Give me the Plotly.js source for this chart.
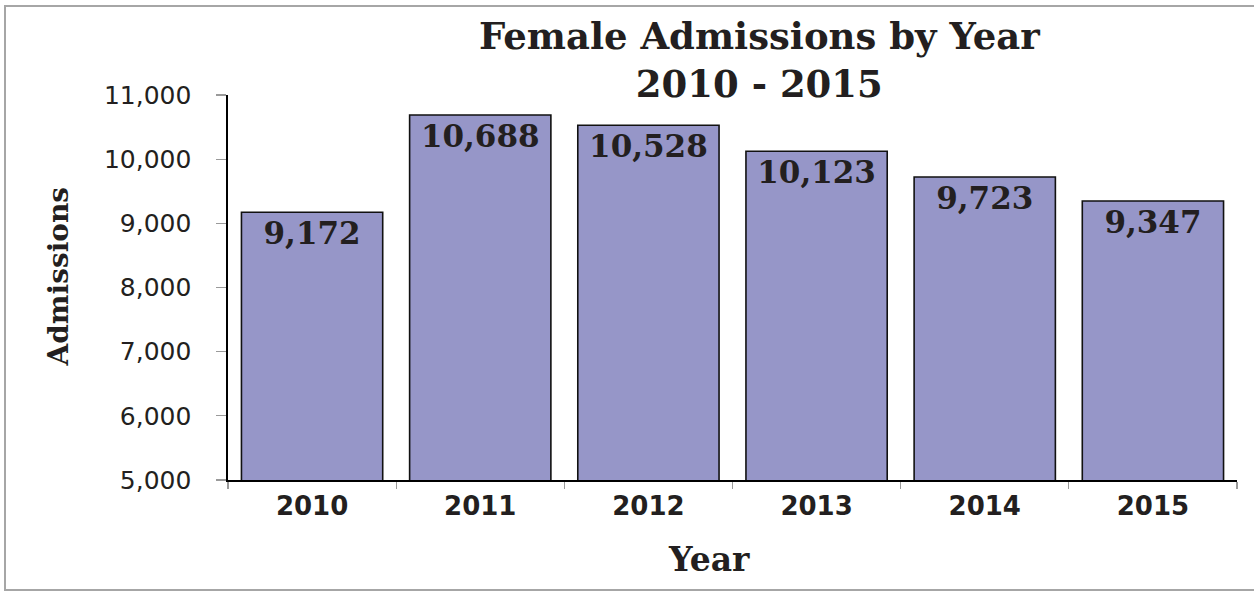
<!DOCTYPE html>
<html>
<head>
<meta charset="utf-8">
<script src="https://cdn.plot.ly/plotly-3.0.1.min.js"></script>
<style>
  html, body { margin: 0; padding: 0; background: #ffffff; }
  #frame {
    position: absolute; left: 4px; top: 5px;
    width: 1248px; height: 582px;
    border: 2px solid #a6a6a6; border-right: none;
  }
  #chart { width: 1248px; height: 582px; }
</style>
</head>
<body>
<div id="frame"><div id="chart"></div></div>
<script>
// ---- data ----
const years = ["2010", "2011", "2012", "2013", "2014", "2015"];
const admissions = [9172, 10688, 10528, 10123, 9723, 9347];
const yTickValues = [5000, 6000, 7000, 8000, 9000, 10000, 11000];
const chartTitle = "Female Admissions by Year<br>2010 - 2015";
const xTitle = "Year";
const yTitle = "Admissions";

const serif = "DejaVu Serif, Liberation Serif, serif";
const sans = "DejaVu Sans, Liberation Sans, Arial, sans-serif";
const ink = "#231f20";

const trace = {
  type: "bar",
  x: years,
  y: admissions,
  marker: { color: "#9696c8", line: { color: "#111111", width: 1.6 } },
  width: 0.84,
  texttemplate: "%{y:,}",
  textposition: "inside",
  insidetextanchor: "end",
  textangle: 0,
  constraintext: "none",
  textfont: { family: serif, size: 31, color: ink, weight: "bold" },
  hoverinfo: "skip"
};

const layout = {
  width: 1248,
  height: 582,
  margin: { l: 222, r: 17, t: 88, b: 109, pad: 0 },
  paper_bgcolor: "#ffffff",
  plot_bgcolor: "#ffffff",
  showlegend: false,
  xaxis: {
    type: "category",
    showline: true, linecolor: "#000000", linewidth: 1.6,
    ticks: "outside", tickson: "boundaries", ticklen: 7, tickcolor: "#9a9a9a", tickwidth: 1.2,
    tickfont: { family: sans, size: 26, color: ink, weight: "bold" },
    ticklabelstandoff: 2,
    showgrid: false, zeroline: false
  },
  yaxis: {
    range: [5000, 11000],
    tickvals: yTickValues,
    tickformat: ",",
    showline: true, linecolor: "#000000", linewidth: 1.6,
    ticks: "outside", ticklen: 10, tickcolor: "#9a9a9a", tickwidth: 1.2,
    tickfont: { family: sans, size: 25, color: ink },
    ticklabelstandoff: 20,
    showgrid: false, zeroline: false
  },
  annotations: [
    {
      text: chartTitle,
      xref: "paper", yref: "paper",
      x: 0.527, y: 1.09, xanchor: "center", yanchor: "middle",
      showarrow: false,
      font: { family: serif, size: 37, color: ink, weight: "bold" }
    },
    {
      text: yTitle, textangle: -90,
      xref: "paper", yref: "paper",
      x: -0.168, y: 0.53, xanchor: "center", yanchor: "middle",
      showarrow: false,
      font: { family: serif, size: 28, color: ink, weight: "bold" }
    },
    {
      text: xTitle,
      xref: "paper", yref: "paper",
      x: 0.477, y: -0.207, xanchor: "center", yanchor: "middle",
      showarrow: false,
      font: { family: serif, size: 33, color: ink, weight: "bold" }
    }
  ]
};

Plotly.newPlot("chart", [trace], layout, { displayModeBar: false, staticPlot: true });
</script>
</body>
</html>
